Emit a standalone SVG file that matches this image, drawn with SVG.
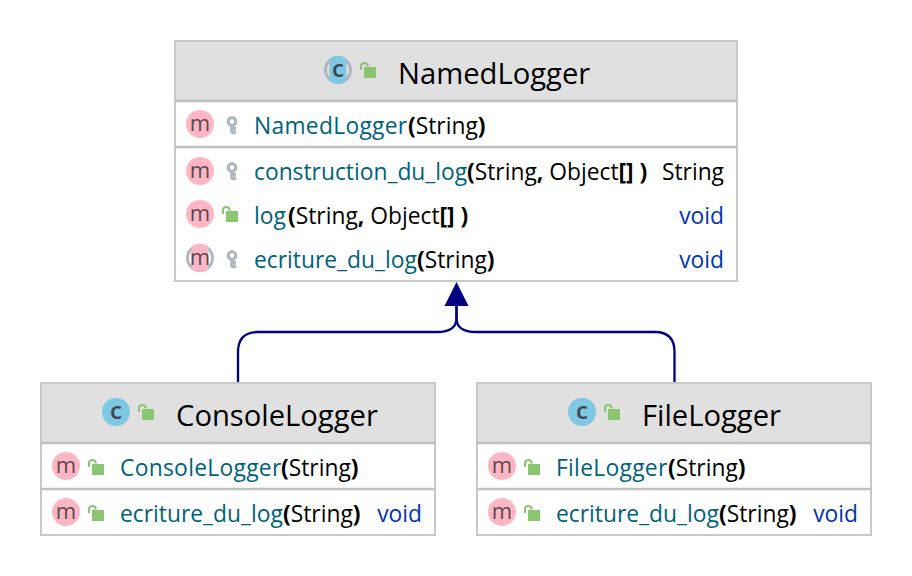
<svg xmlns="http://www.w3.org/2000/svg" width="912" height="576" viewBox="0 0 912 576">
<style>
text{font-family:"Open Sans","Noto Sans","Liberation Sans",sans-serif;fill:#000}
.t{font-size:29.2px}
.m{font-size:22.8px}
.n{fill:#00627a}
.w{letter-spacing:.3px}
.v{fill:#0033b3}
.p{font-weight:700}
.b{fill:#fff;stroke:#c8c8c8;stroke-width:2}
.h{fill:#e0e0e0}
.l{stroke:#c0c0c0;stroke-width:2.600;fill:none}
.gm{font-size:22px;fill:#5a4a4e;text-anchor:middle}
.gc{font-size:24px;font-weight:600;fill:#3f4652;text-anchor:middle}
.c{fill:none;stroke:#000080;stroke-width:2.300}
</style>
<defs>
<g id="lock"><path d="M-8 -1V-5Q-8 -8 -4.500 -8Q-1.500 -8 -1 -4.500" fill="none" stroke="#8cc572" stroke-width="2"/><rect x="-5" y="-4" width="12" height="11" fill="#8cc572"/></g>
<g id="key"><circle cx="0" cy="-3.500" r="3.800" fill="none" stroke="#afb8bf" stroke-width="3.200"/><path d="M0 -1V8.500M0 3.500H4M0 7.500H4" stroke="#afb8bf" stroke-width="3.600" fill="none"/></g>
<circle id="mc" r="14" fill="#ffb6c4"/>
<circle id="cc" r="14" fill="#7ec8e3"/>
<clipPath id="band"><rect x="-8.500" y="-14" width="17" height="28"/></clipPath>
</defs>

<g id="connectors">
<path class="c" d="M238 382V352Q238 332 258 332H437Q456.500 332 456.500 318V304"/>
<path class="c" d="M674.500 382V352Q674.500 332 655 332H476Q456.500 332 456.500 318V304"/>
<polygon points="456.500,282 468.500,306 444.500,306" fill="#000080"/>
</g>

<g id="NamedLogger">
<rect class="b" x="175" y="41" width="562" height="240"/>
<rect class="h" x="176" y="42" width="560" height="58"/>
<line class="l" x1="175" y1="101" x2="737" y2="101"/>
<line class="l" x1="175" y1="147" x2="737" y2="147"/>
<g transform="translate(338,70)"><circle r="12.500" fill="none" stroke="#afb8bf" stroke-width="3"/><use href="#cc" clip-path="url(#band)"/><text class="gc" x="0" y="6.500">c</text></g>
<use href="#lock" x="369" y="71"/>
<text class="t" x="398" y="84">NamedLogger</text>
<g transform="translate(200,124)"><use href="#mc"/><text class="gm" x="0" y="7">m</text></g><use href="#key" x="232" y="125"/>
<text class="m" x="254" y="134"><tspan class="n w">NamedLogger</tspan><tspan class="p" x="408">(</tspan><tspan>String</tspan><tspan class="p">)</tspan></text>
<g transform="translate(200,171)"><use href="#mc"/><text class="gm" x="0" y="7">m</text></g><use href="#key" x="232" y="171"/>
<text class="m" x="254" y="180"><tspan class="n">construction_du_log</tspan><tspan class="p" x="467">(</tspan><tspan>String</tspan><tspan class="p">,</tspan><tspan> Object</tspan><tspan class="p">[] )</tspan></text>
<text class="m" x="724" y="180" text-anchor="end">String</text>
<g transform="translate(200,214)"><use href="#mc"/><text class="gm" x="0" y="7">m</text></g><use href="#lock" x="231" y="215"/>
<text class="m" x="254" y="224"><tspan class="n">log</tspan><tspan class="p" x="288">(</tspan><tspan>String</tspan><tspan class="p">,</tspan><tspan> Object</tspan><tspan class="p">[] )</tspan></text>
<text class="m v" x="724" y="224" text-anchor="end">void</text>
<g transform="translate(200,258)"><circle r="12.500" fill="none" stroke="#afb8bf" stroke-width="3"/><use href="#mc" clip-path="url(#band)"/><text class="gm" x="0" y="7">m</text></g>
<use href="#key" x="232" y="259"/>
<text class="m" x="254" y="268"><tspan class="n">ecriture_du_log</tspan><tspan class="p" x="417">(</tspan><tspan>String</tspan><tspan class="p">)</tspan></text>
<text class="m v" x="724" y="268" text-anchor="end">void</text>
</g>

<g id="ConsoleLogger">
<rect class="b" x="41" y="383" width="394" height="152"/>
<rect class="h" x="42" y="384" width="392" height="58"/>
<line class="l" x1="41" y1="443" x2="435" y2="443"/>
<line class="l" x1="41" y1="489" x2="435" y2="489"/>
<g transform="translate(116,412)"><use href="#cc"/><text class="gc" x="0" y="6.500">c</text></g>
<use href="#lock" x="147" y="413"/>
<text class="t" x="176" y="426">ConsoleLogger</text>
<g transform="translate(66,466)"><use href="#mc"/><text class="gm" x="0" y="7">m</text></g><use href="#lock" x="97" y="468"/>
<text class="m" x="120" y="476"><tspan class="n w">ConsoleLogger</tspan><tspan class="p" x="281">(</tspan><tspan>String</tspan><tspan class="p">)</tspan></text>
<g transform="translate(66,512)"><use href="#mc"/><text class="gm" x="0" y="7">m</text></g><use href="#lock" x="97" y="514"/>
<text class="m" x="120" y="522"><tspan class="n">ecriture_du_log</tspan><tspan class="p" x="283">(</tspan><tspan>String</tspan><tspan class="p">)</tspan></text>
<text class="m v" x="422" y="522" text-anchor="end">void</text>
</g>

<g id="FileLogger">
<rect class="b" x="477" y="383" width="394" height="152"/>
<rect class="h" x="478" y="384" width="392" height="58"/>
<line class="l" x1="477" y1="443" x2="871" y2="443"/>
<line class="l" x1="477" y1="489" x2="871" y2="489"/>
<g transform="translate(582,412)"><use href="#cc"/><text class="gc" x="0" y="6.500">c</text></g>
<use href="#lock" x="613" y="413"/>
<text class="t" x="642" y="426">FileLogger</text>
<g transform="translate(502,466)"><use href="#mc"/><text class="gm" x="0" y="7">m</text></g><use href="#lock" x="533" y="468"/>
<text class="m" x="556" y="476"><tspan class="n w">FileLogger</tspan><tspan class="p" x="668">(</tspan><tspan>String</tspan><tspan class="p">)</tspan></text>
<g transform="translate(502,512)"><use href="#mc"/><text class="gm" x="0" y="7">m</text></g><use href="#lock" x="533" y="514"/>
<text class="m" x="556" y="522"><tspan class="n">ecriture_du_log</tspan><tspan class="p" x="719">(</tspan><tspan>String</tspan><tspan class="p">)</tspan></text>
<text class="m v" x="858" y="522" text-anchor="end">void</text>
</g>
</svg>
